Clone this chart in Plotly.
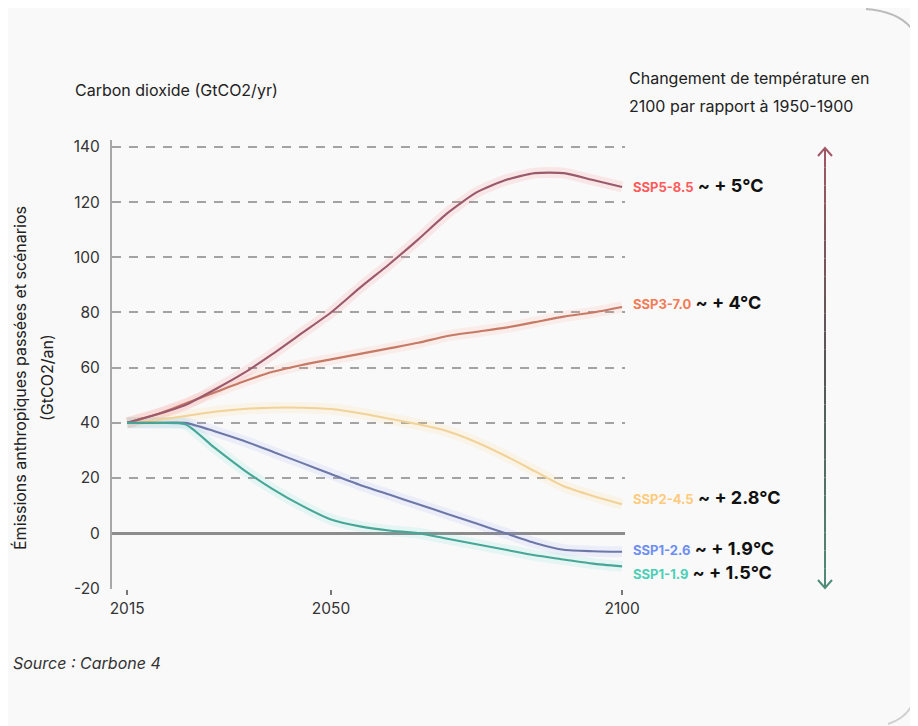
import plotly.graph_objects as go

# ---------------- data ----------------
years = [2015, 2020, 2025, 2030, 2035, 2040, 2045, 2050, 2055, 2060,
         2065, 2070, 2075, 2080, 2085, 2090, 2095, 2100]

ssp585 = [40, 43, 46.5, 52, 58, 65, 72.5, 80, 89, 97.5, 106.5, 116, 123.5, 128, 130.5, 130.5, 128, 125.5]
ssp370 = [40, 43, 47, 51, 55, 58.5, 61, 63, 65, 67, 69, 71.5, 73, 74.5, 76.5, 78.5, 80, 82]
ssp245 = [40, 41, 42.5, 44, 45, 45.5, 45.5, 45, 43.5, 41.5, 39.5, 37, 33, 28, 22.5, 17, 13.5, 10.5]
ssp126 = [40, 40, 40, 37, 33.5, 29.5, 25.5, 21.5, 17.5, 14, 10.5, 7, 3.5, 0, -3.5, -6, -6.5, -6.7]
ssp119 = [40, 40, 39.5, 31, 23, 16, 10, 5, 2.5, 1, 0, -2, -4, -6, -8, -9.5, -11, -12]

scenario_names = ["SSP5-8.5", "SSP3-7.0", "SSP2-4.5", "SSP1-2.6", "SSP1-1.9"]
scenario_values = [ssp585, ssp370, ssp245, ssp126, ssp119]
temperatures = ["~ + 5°C", "~ + 4°C", "~ + 2.8°C", "~ + 1.9°C", "~ + 1.5°C"]

x_ticks = [2015, 2050, 2100]
y_ticks = [-20, 0, 20, 40, 60, 80, 100, 120, 140]

# ---------------- styles ----------------
core_colors = ["#9a5a6c", "#c67a66", "#f1d39a", "#6d78a8", "#48a696"]
halo_colors = ["rgba(255,110,110,0.12)", "rgba(255,150,120,0.12)", "rgba(255,215,140,0.17)",
               "rgba(120,150,245,0.10)", "rgba(70,220,200,0.11)"]
label_colors = ["#ff5b5b", "#f47b55", "#ffcb7d", "#6f8ef2", "#4dcfb6"]
label_py = [185, 302, 497, 548, 572]

# page offset: the html body has an 8px margin
OFF = 8
W, H = 918 - OFF, 726 - OFF
# plot area in page pixels
L, R, T, B = 112, 625, 140, 589


def px(xp):
    return (xp - L) / (R - L)


def py(yp):
    return (B - yp) / (B - T)


FONT = "Inter, 'Noto Sans', sans-serif"

fig = go.Figure()

draw_order = [2, 1, 0, 3, 4]
for i in draw_order:
    fig.add_trace(go.Scatter(
        x=years, y=scenario_values[i], mode="lines",
        line=dict(color=halo_colors[i], width=11, shape="spline", smoothing=0.6),
        hoverinfo="skip", showlegend=False))
for i in draw_order:
    fig.add_trace(go.Scatter(
        x=years, y=scenario_values[i], mode="lines", name=scenario_names[i],
        line=dict(color=core_colors[i], width=2.1, shape="spline", smoothing=0.6),
        showlegend=False))

annotations = []
for name, temp, col, yy in zip(scenario_names, temperatures, label_colors, label_py):
    annotations.append(dict(
        xref="paper", yref="paper", x=px(631), y=py(yy), xanchor="left", yanchor="middle",
        showarrow=False, align="left",
        text=f"<span style='color:{col};font-size:13px'><b>{name}</b></span>"
             f"<span style='color:#111;font-size:18px'><b> {temp}</b></span>",
        font=dict(family=FONT, size=18, color="#111")))

TF = 16
annotations.append(dict(
    xref="paper", yref="paper", x=px(73), y=py(90), xanchor="left", yanchor="middle",
    showarrow=False, text="Carbon dioxide (GtCO2/yr)",
    font=dict(family=FONT, size=TF, color="#222")))
annotations.append(dict(
    xref="paper", yref="paper", x=px(627), y=py(78), xanchor="left", yanchor="middle",
    showarrow=False, text="Changement de température en",
    font=dict(family=FONT, size=TF, color="#222")))
annotations.append(dict(
    xref="paper", yref="paper", x=px(627), y=py(106), xanchor="left", yanchor="middle",
    showarrow=False, text="2100 par rapport à 1950-1900",
    font=dict(family=FONT, size=TF, color="#222")))
annotations.append(dict(
    xref="paper", yref="paper", x=px(20), y=py(378), xanchor="center", yanchor="middle",
    showarrow=False, textangle=-90, text="Émissions anthropiques passées et scénarios",
    font=dict(family=FONT, size=TF, color="#222")))
annotations.append(dict(
    xref="paper", yref="paper", x=px(47), y=py(378), xanchor="center", yanchor="middle",
    showarrow=False, textangle=-90, text="(GtCO2/an)",
    font=dict(family=FONT, size=TF, color="#222")))
annotations.append(dict(
    xref="paper", yref="paper", x=px(11), y=py(663), xanchor="left", yanchor="middle",
    showarrow=False, text="<i>Source : Carbone 4</i>",
    font=dict(family=FONT, size=TF, color="#333")))

# gradient double arrow (decoration)
shapes = []
ax = px(825)
top_y, bot_y = 149, 587
n = 24
c_top = (160, 88, 100)
c_mid = (85, 85, 85)
c_bot = (80, 140, 122)
for k in range(n):
    t0 = k / n
    t1 = (k + 1) / n
    tm = (t0 + t1) / 2
    if tm < 0.5:
        f = tm / 0.5
        c = tuple(int(c_top[j] + (c_mid[j] - c_top[j]) * f) for j in range(3))
    else:
        f = (tm - 0.5) / 0.5
        c = tuple(int(c_mid[j] + (c_bot[j] - c_mid[j]) * f) for j in range(3))
    y0 = top_y + (bot_y - top_y) * t0
    y1 = top_y + (bot_y - top_y) * t1
    shapes.append(dict(type="line", xref="paper", yref="paper", x0=ax, x1=ax,
                       y0=py(y0), y1=py(y1), line=dict(color=f"rgb{c}", width=2)))
shapes.append(dict(type="path", xref="paper", yref="paper",
                   path=f"M {px(818)},{py(156)} L {ax},{py(148)} L {px(832)},{py(156)}",
                   line=dict(color="rgb(160,88,100)", width=2)))
shapes.append(dict(type="path", xref="paper", yref="paper",
                   path=f"M {px(818)},{py(580)} L {ax},{py(588)} L {px(832)},{py(580)}",
                   line=dict(color="rgb(80,140,122)", width=2)))
# card corner arcs
shapes.append(dict(type="path", xref="paper", yref="paper",
                   path=f"M {px(866)},{py(9)} Q {px(906)},{py(12)} {px(917)},{py(38)}",
                   line=dict(color="#bbbbbb", width=2)))
shapes.append(dict(type="path", xref="paper", yref="paper",
                   path=f"M {px(917)},{py(690)} Q {px(913)},{py(716)} {px(888)},{py(724)}",
                   line=dict(color="#d0d0d0", width=2)))

fig.update_layout(
    width=W, height=H,
    margin=dict(l=L - OFF, r=W - (R - OFF), t=T - OFF, b=H - (B - OFF)),
    paper_bgcolor="#f9f9f9", plot_bgcolor="#f9f9f9",
    font=dict(family=FONT, size=15, color="#333"),
    annotations=annotations, shapes=shapes,
    xaxis=dict(range=[2012.4, 2100.5], tickvals=x_ticks, ticktext=[str(v) for v in x_ticks],
               showgrid=False, zeroline=False, showline=False,
               ticks="outside", ticklen=5, tickwidth=2, tickcolor="#777",
               tickfont=dict(family=FONT, size=15.5, color="#333")),
    yaxis=dict(range=[-20.2, 142.5], tickvals=y_ticks, ticktext=[str(v) for v in y_ticks],
               showgrid=True, gridcolor="#a3a3a3", gridwidth=2, griddash="9px,8px",
               zeroline=True, zerolinecolor="#8c8c8c", zerolinewidth=2.5,
               showline=True, linecolor="#a8a8a8", linewidth=2,
               ticks="", ticklabelstandoff=7,
               tickfont=dict(family=FONT, size=15.5, color="#333")),
)

fig.write_html("out.html")
